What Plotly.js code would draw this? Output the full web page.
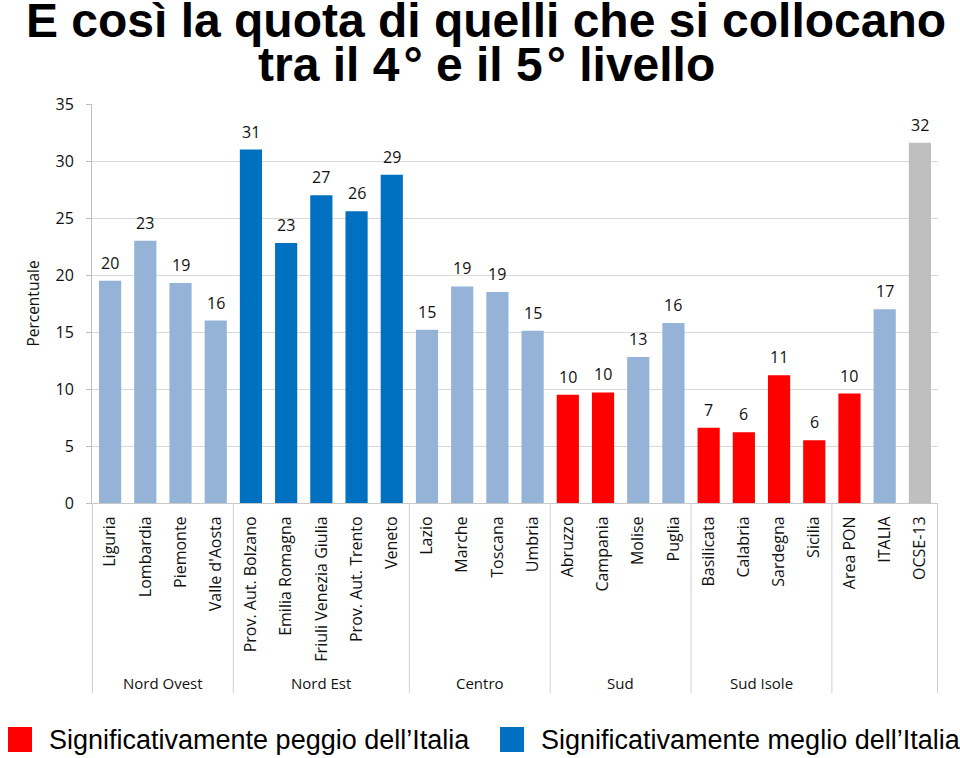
<!DOCTYPE html>
<html>
<head>
<meta charset="utf-8">
<script src="https://cdn.plot.ly/plotly-3.0.1.min.js"></script>
<style>html,body{margin:0;padding:0;background:#fff;}#chart{width:960px;height:758px;}</style>
</head>
<body>
<div id="chart"></div>
<script>
// ---- Data ----
const regions = ["Liguria","Lombardia","Piemonte","Valle d'Aosta",
  "Prov. Aut. Bolzano","Emilia Romagna","Friuli Venezia Giulia","Prov. Aut. Trento","Veneto",
  "Lazio","Marche","Toscana","Umbria",
  "Abruzzo","Campania","Molise","Puglia",
  "Basilicata","Calabria","Sardegna","Sicilia",
  "Area PON","ITALIA","OCSE-13"];
const values = [19.5,23.0,19.3,16.0, 31.0,22.8,27.0,25.6,28.8, 15.2,19.0,18.5,15.1,
  9.5,9.7,12.8,15.8, 6.6,6.2,11.2,5.5, 9.6,17.0,31.6];
const valueLabels = ["20","23","19","16","31","23","27","26","29","15","19","19","15",
  "10","10","13","16","7","6","11","6","10","17","32"];
// n = non significativo, b = meglio, r = peggio, o = OCSE
const status = ["n","n","n","n","b","b","b","b","b","n","n","n","n",
  "r","r","n","n","r","r","r","r","r","n","o"];
const groupNames = ["Nord Ovest","Nord Est","Centro","Sud","Sud Isole",""];
const groupSizes = [4,5,4,4,4,3];
const legendLabels = ["Significativamente peggio dell\u2019Italia","Significativamente meglio dell\u2019Italia"];
const yTicks = [0,5,10,15,20,25,30,35];

// ---- Styles ----
const colorMap = {n:"#95B3D7", b:"#0070C0", r:"#FF0000", o:"#BFBFBF"};
const labelFont = "Open Sans, Lato, DejaVu Sans, sans-serif";
const titleFont = "Liberation Sans, Arial, Helvetica, sans-serif";

const trace = {
  type: "bar",
  x: regions,
  y: values,
  marker: {color: status.map(s => colorMap[s]), line: {width: 0}},
  hoverinfo: "x+y",
  showlegend: false
};

const shapes = [];
const annotations = [];

// value labels above bars
regions.forEach((r, i) => {
  annotations.push({text: valueLabels[i], xref:"x", yref:"y", x:r, y:values[i],
    xanchor:"center", yanchor:"bottom", yshift:5, showarrow:false,
    font:{family:labelFont, size:16, color:"#111"}});
});

// group separators and labels
const sepBottom = -(693-503)/399;
let start = 0;
shapes.push({type:"line", xref:"x", yref:"paper", x0:-0.5, x1:-0.5, y0:0, y1:sepBottom,
  line:{color:"#D0D0D0", width:1}});
groupNames.forEach((g, i) => {
  const end = start + groupSizes[i];
  shapes.push({type:"line", xref:"x", yref:"paper", x0:end-0.5, x1:end-0.5, y0:0, y1:sepBottom,
    line:{color:"#D0D0D0", width:1}});
  if (g) {
    annotations.push({text:g, xref:"x", yref:"paper", x:(start+end-1)/2, y:-(683-503)/399,
      xanchor:"center", yanchor:"middle", showarrow:false,
      font:{family:labelFont, size:15, color:"#111"}});
  }
  start = end;
});

// second title line
annotations.push({text:"tra il 4\u200A\u00B0 e il 5\u200A\u00B0 livello", xref:"paper", yref:"paper",
  x:(486-92)/846, y:(503-65)/399, xanchor:"center", yanchor:"middle", showarrow:false,
  font:{family:titleFont, size:48, color:"#000", weight:"bold"}});

// legend (drawn)
const legendColors = [colorMap.r, colorMap.b];
const legSquareX = [8, 500];
const legTextX = [47, 539];
legendLabels.forEach((lab, i) => {
  shapes.push({type:"rect", xref:"paper", yref:"paper",
    x0:(legSquareX[i]-92)/846, x1:(legSquareX[i]+24-92)/846,
    y0:(503-752)/399, y1:(503-727)/399,
    fillcolor:legendColors[i], line:{width:0}});
  annotations.push({text:lab, xref:"paper", yref:"paper", x:(legTextX[i]-92)/846, y:(503-740)/399,
    xanchor:"left", yanchor:"middle", showarrow:false,
    font:{family:titleFont, size:27, color:"#000"}});
});

const layout = {
  width: 960, height: 758,
  margin: {l:92, r:22, t:104, b:255, pad:0},
  paper_bgcolor: "#fff", plot_bgcolor: "#fff",
  title: {text:"E così la quota di quelli che si collocano", x:486/960, xanchor:"center",
    xref:"container", yref:"container", y:1-3/758, yanchor:"top",
    font:{family:titleFont, size:48, color:"#000", weight:"bold"}},
  bargap: 0.37,
  xaxis: {type:"category", tickangle:-90, ticks:"", showline:true, linecolor:"#C8C8C8",
    tickfont:{family:labelFont, size:16, color:"#111"}, ticklabelstandoff:6,
    showgrid:false, zeroline:false, fixedrange:true},
  yaxis: {range:[0,35], tickvals:yTicks, showline:true, linecolor:"#BFBFBF",
    ticks:"outside", ticklen:5, tickcolor:"#BFBFBF", gridcolor:"#D9D9D9",
    zeroline:false, tickfont:{family:labelFont, size:16, color:"#111"},
    ticklabelstandoff:9,
    title:{text:"Percentuale", font:{family:labelFont, size:15.5, color:"#111"}, standoff:12},
    fixedrange:true},
  shapes: shapes,
  annotations: annotations,
  showlegend: false
};

Plotly.newPlot("chart", [trace], layout, {displayModeBar:false, staticPlot:true});
</script>
</body>
</html>
